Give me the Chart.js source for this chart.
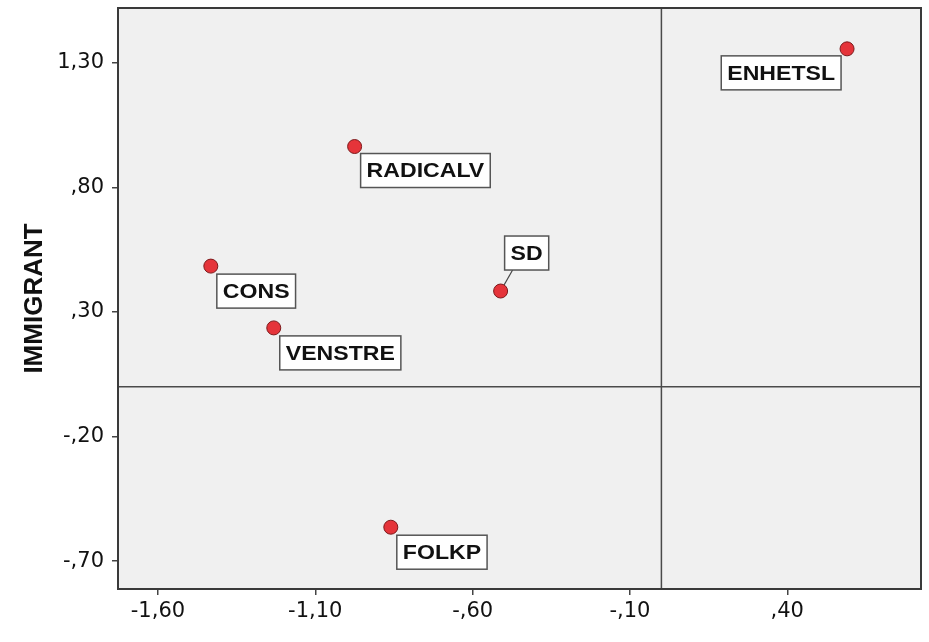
<!DOCTYPE html>
<html>
<head>
<meta charset="utf-8">
<script src="https://cdn.jsdelivr.net/npm/chart.js@4"></script>
<style>
  html, body { margin: 0; padding: 0; background: #fff; }
  #wrap { width: 929px; height: 642px; position: relative; }
</style>
</head>
<body>
<div id="wrap"><canvas id="chart"></canvas></div>
<script>
// data
const parties = ['ENHETSL', 'RADICALV', 'CONS', 'VENSTRE', 'SD', 'FOLKP'];
const xValues = [0.59, -0.975, -1.432, -1.232, -0.511, -0.86];
const yValues = [1.356, 0.964, 0.484, 0.236, 0.384, -0.564];
const xTicks = [-1.6, -1.1, -0.6, -0.1, 0.4];
const yTicks = [-0.7, -0.2, 0.3, 0.8, 1.3];

// label box placement relative to the point (pixels)
const labelPlace = {
    ENHETSL: { dx: -6, dy: 7, anchor: 'right' },
    RADICALV: { dx: 6, dy: 7 },
    CONS: { dx: 6, dy: 8 },
    VENSTRE: { dx: 6, dy: 8 },
    SD: { dx: 4, dy: -55, leader: true },
    FOLKP: { dx: 6, dy: 8 }
};

const fmt = v => {
    let s = Math.abs(v).toFixed(2).replace('.', ',');
    if (s.startsWith('0,')) s = s.slice(1);
    return (v < 0 ? '-' : '') + s;
};

const tickFont = { family: '"DejaVu Sans", sans-serif', size: 21 };

const frame = {
    id: 'frame',
    beforeDraw(chart) {
        const { ctx, chartArea: a } = chart;
        ctx.save();
        ctx.fillStyle = '#f0f0f0';
        ctx.fillRect(a.left, a.top, a.right - a.left, a.bottom - a.top);
        ctx.restore();
    },
    beforeDatasetsDraw(chart) {
        const { ctx, chartArea: a, scales: { x, y } } = chart;
        ctx.save();
        ctx.strokeStyle = '#4a4a4a';
        ctx.lineWidth = 1.5;
        const x0 = x.getPixelForValue(0), y0 = y.getPixelForValue(0);
        ctx.beginPath();
        ctx.moveTo(x0, a.top); ctx.lineTo(x0, a.bottom);
        ctx.moveTo(a.left, y0); ctx.lineTo(a.right, y0);
        ctx.stroke();
        ctx.lineWidth = 2;
        ctx.strokeStyle = '#3a3a3a';
        ctx.strokeRect(a.left, a.top, a.right - a.left, a.bottom - a.top);

        // leader lines under the points
        const meta = chart.getDatasetMeta(0);
        ctx.strokeStyle = '#444';
        ctx.lineWidth = 1.2;
        parties.forEach((p, i) => {
            const pl = labelPlace[p];
            if (!pl || !pl.leader) return;
            const pt = meta.data[i];
            ctx.beginPath();
            ctx.moveTo(pt.x, pt.y);
            ctx.lineTo(pt.x + pl.dx + 8, pt.y + pl.dy + 34);
            ctx.stroke();
        });
        ctx.restore();
    },
    afterDatasetsDraw(chart) {
        const { ctx } = chart;
        const meta = chart.getDatasetMeta(0);
        ctx.save();
        ctx.font = 'bold 21px "Liberation Sans", Arial, sans-serif';
        ctx.textBaseline = 'middle';
        const stretch = 1.1, pad = 6, h = 34;
        parties.forEach((p, i) => {
            const pl = labelPlace[p];
            const pt = meta.data[i];
            const w = ctx.measureText(p).width * stretch + pad * 2;
            let bx = pt.x + pl.dx;
            if (pl.anchor === 'right') bx -= w;
            const by = pt.y + pl.dy;
            ctx.fillStyle = '#fff';
            ctx.fillRect(bx, by, w, h);
            ctx.strokeStyle = '#555';
            ctx.lineWidth = 1.5;
            ctx.strokeRect(bx, by, w, h);
            ctx.save();
            ctx.translate(bx + pad, by + h / 2 + 1);
            ctx.scale(stretch, 1);
            ctx.fillStyle = '#111';
            ctx.fillText(p, 0, 0);
            ctx.restore();
        });
        ctx.restore();
    }
};

new Chart(document.getElementById('chart'), {
    type: 'scatter',
    data: {
        datasets: [{
            data: xValues.map((v, i) => ({ x: v, y: yValues[i] })),
            backgroundColor: '#e5343a',
            borderColor: '#7d1a1c',
            borderWidth: 1,
            pointRadius: 7,
            pointHoverRadius: 7
        }]
    },
    options: {
        responsive: true,
        maintainAspectRatio: false,
        animation: false,
        events: [],
        layout: { padding: { left: 0, top: 2, right: 7, bottom: 0 } },
        plugins: { legend: { display: false }, tooltip: { enabled: false } },
        scales: {
            x: {
                type: 'linear',
                min: -1.727,
                max: 0.825,
                afterBuildTicks: s => { s.ticks = xTicks.map(v => ({ value: v })); },
                afterFit: s => { s.height = 53; s.paddingLeft = 0; s.paddingRight = 0; },
                border: { display: false },
                grid: { drawOnChartArea: false, drawTicks: true, tickLength: 6, color: '#444', lineWidth: 1.5 },
                ticks: {
                    callback: v => fmt(v),
                    color: '#111',
                    padding: 4,
                    maxRotation: 0,
                    font: tickFont
                }
            },
            y: {
                type: 'linear',
                min: -0.812,
                max: 1.52,
                afterBuildTicks: s => { s.ticks = yTicks.map(v => ({ value: v })); },
                afterFit: s => { s.width = 118; s.paddingTop = 0; s.paddingBottom = 0; },
                border: { display: false },
                grid: { drawOnChartArea: false, drawTicks: true, tickLength: 6, color: '#444', lineWidth: 1.5 },
                title: {
                    display: true,
                    text: 'IMMIGRANT',
                    color: '#111',
                    padding: { top: 19, bottom: 0 },
                    font: { family: '"Liberation Sans", Arial, sans-serif', size: 26, weight: 'bold' }
                },
                ticks: {
                    callback: v => fmt(v),
                    color: '#111',
                    padding: 8,
                    font: tickFont
                }
            }
        }
    },
    plugins: [frame]
});
</script>
</body>
</html>
